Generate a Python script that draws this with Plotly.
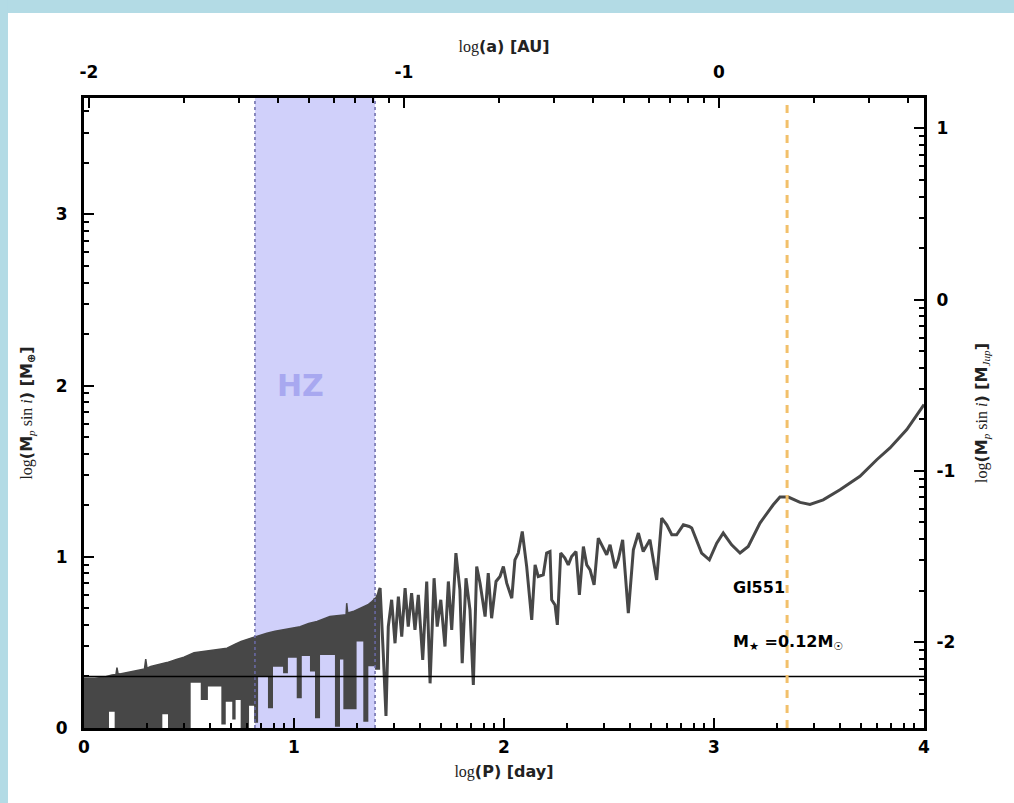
import math
import plotly.graph_objects as go

# ---- detection-limit curve: dense short-period part (envelope band) ----
dense_p_up = [0.0, 0.05, 0.095, 0.133, 0.152, 0.157, 0.162, 0.171, 0.224, 0.267,
              0.288, 0.294, 0.300, 0.318, 0.36, 0.395, 0.44, 0.476, 0.524, 0.56,
              0.605, 0.64, 0.681, 0.72, 0.748, 0.795, 0.83, 0.871, 0.91, 0.948,
              0.99, 1.029, 1.07, 1.110, 1.171, 1.21, 1.238, 1.248, 1.251, 1.256,
              1.281, 1.31, 1.329, 1.352, 1.371, 1.390, 1.41]
dense_m_up = [0.29, 0.29, 0.296, 0.31, 0.312, 0.353, 0.318, 0.315, 0.329, 0.339,
              0.345, 0.402, 0.35, 0.359, 0.37, 0.382, 0.40, 0.413, 0.44, 0.445,
              0.452, 0.458, 0.466, 0.49, 0.505, 0.525, 0.54, 0.554, 0.565, 0.573,
              0.58, 0.592, 0.61, 0.622, 0.651, 0.655, 0.66, 0.662, 0.729, 0.672,
              0.68, 0.695, 0.709, 0.72, 0.739, 0.76, 0.817]

dense_p_lo = [0.0, 0.119, 0.146, 0.373, 0.400, 0.508, 0.556, 0.590, 0.654, 0.675,
              0.706, 0.722, 0.746, 0.786, 0.810, 0.829, 0.876, 0.900, 0.948, 0.971,
              1.013, 1.037, 1.076, 1.100, 1.124, 1.195, 1.219, 1.235, 1.298, 1.330,
              1.354, 1.386, 1.41]
dense_m_lo = [0.0, 0.095, 0.0, 0.08, 0.0, 0.265, 0.164, 0.242, 0.02, 0.154,
              0.05, 0.164, 0.0, 0.13, 0.03, 0.30, 0.115, 0.358, 0.32, 0.41,
              0.174, 0.42, 0.33, 0.057, 0.427, 0.008, 0.40, 0.11, 0.505, 0.037,
              0.36, 0.34, 0.34]

# ---- detection-limit curve: longer periods ----
line_p = [1.386, 1.395, 1.405, 1.410, 1.425, 1.438, 1.449, 1.465, 1.481, 1.497,
          1.513, 1.529, 1.544, 1.560, 1.576, 1.592, 1.613, 1.632, 1.648, 1.667,
          1.682, 1.699, 1.719, 1.735, 1.751, 1.771, 1.790, 1.801, 1.819, 1.838,
          1.854, 1.870, 1.886, 1.910, 1.925, 1.941, 1.962, 1.981, 1.997, 2.013,
          2.037, 2.052, 2.068, 2.087, 2.108, 2.132, 2.148, 2.163, 2.187, 2.203,
          2.219, 2.227, 2.243, 2.254, 2.270, 2.290, 2.306, 2.322, 2.343, 2.359,
          2.378, 2.394, 2.410, 2.429, 2.449, 2.470, 2.489, 2.505, 2.529, 2.544,
          2.565, 2.592, 2.616, 2.640, 2.663, 2.695, 2.727, 2.751, 2.775, 2.799,
          2.822, 2.854, 2.882, 2.894, 2.941, 2.978, 3.013, 3.044, 3.084, 3.124,
          3.163, 3.219, 3.282, 3.314, 3.354, 3.410, 3.457, 3.520, 3.600, 3.695,
          3.775, 3.838, 3.918, 4.0]
line_m = [0.76, 0.36, 0.80, 0.817, 0.437, 0.07, 0.592, 0.749, 0.495, 0.768,
          0.534, 0.817, 0.592, 0.788, 0.573, 0.778, 0.398, 0.856, 0.261, 0.875,
          0.592, 0.749, 0.476, 0.856, 0.573, 1.022, 0.807, 0.378, 0.875, 0.690,
          0.251, 0.943, 0.846, 0.651, 0.905, 0.641, 0.856, 0.885, 0.943, 0.846,
          0.758, 0.982, 1.022, 1.148, 0.943, 0.632, 0.953, 0.885, 0.895, 1.022,
          1.031, 0.749, 0.719, 0.602, 1.022, 0.992, 0.953, 1.002, 1.031, 0.778,
          1.060, 0.953, 0.924, 0.836, 1.109, 1.060, 1.012, 1.070, 0.934, 0.982,
          1.099, 0.671, 1.041, 1.139, 1.031, 1.099, 0.865, 1.226, 1.187, 1.129,
          1.129, 1.187, 1.177, 1.168, 1.022, 0.982, 1.080, 1.139, 1.070, 1.022,
          1.060, 1.197, 1.304, 1.349, 1.349, 1.318, 1.306, 1.333, 1.392, 1.470,
          1.567, 1.636, 1.743, 1.889]

# ---- reference levels ----
star_mass = 0.12            # M_sun
threshold_m = 0.301         # log(2 M_earth)
hz_p = [0.814, 1.386]       # habitable zone, log(P)
outer_p = 3.348             # dashed marker, log(P)
earth_to_jup = 2.502        # log(M_jup / M_earth)
p_range = [0.0, 4.0]
m_range = [0.0, 3.68]

bottom_ticks = [0, 1, 2, 3, 4]
left_ticks = [0, 1, 2, 3]
top_ticks = [-2, -1, 0]
right_ticks = [-2, -1, 0, 1]


# log(a) = (2 log P_yr + log M*) / 3, P in days
def log_a(logp_day):
    return (2.0 * (logp_day - math.log10(365.25)) + math.log10(star_mass)) / 3.0


def minor_vals(lo, hi):
    out = []
    for n in range(int(math.floor(lo)) - 1, int(math.ceil(hi)) + 1):
        for k in range(2, 10):
            v = n + math.log10(k)
            if lo < v < hi:
                out.append(v)
    return out


def bold_labels(vals):
    return ["<b>%d</b>" % v if v >= 0 else "<b>-%d</b>" % abs(v) for v in vals]


DARK = "#474747"
fig = go.Figure()

fig.add_trace(go.Scatter(x=dense_p_lo, y=dense_m_lo, mode="lines",
                         line=dict(width=0, shape="hv", color=DARK),
                         hoverinfo="skip", showlegend=False))
fig.add_trace(go.Scatter(x=dense_p_up, y=dense_m_up, mode="lines",
                         line=dict(width=1.5, color=DARK), fill="tonexty",
                         fillcolor=DARK, showlegend=False))
fig.add_trace(go.Scatter(x=line_p, y=line_m, mode="lines",
                         line=dict(width=3, color=DARK), showlegend=False))

# habitable zone
fig.add_shape(type="rect", xref="x", yref="y", x0=hz_p[0], x1=hz_p[1],
              y0=m_range[0], y1=m_range[1], fillcolor="#d0d0fa",
              line=dict(width=0), layer="below")
for xv in hz_p:
    fig.add_shape(type="line", xref="x", yref="y", x0=xv, x1=xv,
                  y0=m_range[0], y1=m_range[1],
                  line=dict(color="#6a6aa8", width=1.5, dash="dot"))

# detection threshold
fig.add_shape(type="line", xref="x", yref="y", x0=p_range[0], x1=p_range[1],
              y0=threshold_m, y1=threshold_m, line=dict(color="black", width=1.5))

# dashed orbit marker
fig.add_shape(type="line", xref="x", yref="y", x0=outer_p, x1=outer_p,
              y0=m_range[0], y1=m_range[1],
              line=dict(color="#f2c06a", width=3, dash="8px,7px"))

# frame bands
fig.add_shape(type="rect", xref="paper", yref="paper", x0=-0.1, x1=1.11,
              y0=1.1349, y1=1.16, fillcolor="#b3dbe5", line=dict(width=0))
fig.add_shape(type="rect", xref="paper", yref="paper", x0=-0.1, x1=-0.0905,
              y0=-0.13, y1=1.16, fillcolor="#b3dbe5", line=dict(width=0))

fig.add_annotation(x=1.03, y=2.0, xref="x", yref="y", text="<b>HZ</b>",
                   showarrow=False, font=dict(family="DejaVu Sans", size=30,
                                               color="#a8a8f0"))
fig.add_annotation(x=3.08, y=0.82, xref="x", yref="y", text="<b>Gl551</b>",
                   xanchor="left", showarrow=False,
                   font=dict(family="DejaVu Sans", size=16, color="black"))
fig.add_annotation(x=3.08, y=0.50, xref="x", yref="y",
                   text="<b>M</b><sub>★</sub><b> =0.12M</b><sub>☉</sub>",
                   xanchor="left", showarrow=False,
                   font=dict(family="DejaVu Sans", size=16, color="black"))

SERIF = "<span style=\"font-family:'Liberation Serif';font-weight:normal\">"
tickfont = dict(family="DejaVu Sans", size=17, color="black")
titlefont = dict(family="DejaVu Sans", size=16, color="#222", weight="bold")
common = dict(showline=True, linewidth=3, linecolor="black", ticks="inside",
              ticklen=10, tickwidth=2, tickcolor="black", showgrid=False,
              zeroline=False, tickfont=tickfont, mirror=False,
              tickmode="array")
minor_style = dict(ticks="inside", ticklen=5, tickwidth=1.5, tickcolor="black",
                   showgrid=False, tickmode="array")

top_range = [log_a(p_range[0]), log_a(p_range[1])]
right_range = [m_range[0] - earth_to_jup, m_range[1] - earth_to_jup]

fig.update_layout(
    width=1014, height=803,
    margin=dict(l=84, r=90, t=98, b=75),
    paper_bgcolor="white", plot_bgcolor="white",
    xaxis=dict(range=p_range, tickvals=bottom_ticks,
               ticktext=bold_labels(bottom_ticks), ticklabelstandoff=2,
               minor=dict(tickvals=minor_vals(*p_range), **minor_style),
               title=dict(text=SERIF + "log</span>(P) [day]", font=titlefont,
                          standoff=10),
               **common),
    yaxis=dict(range=m_range, tickvals=left_ticks,
               ticktext=bold_labels(left_ticks), ticklabelstandoff=10,
               minor=dict(tickvals=minor_vals(*m_range), **minor_style),
               title=dict(text=SERIF + "log</span>(M" + SERIF + "<sub><i>p</i></sub> sin <i>i</i></span>) [M<sub>⊕</sub>]",
                          font=titlefont, standoff=20),
               **common),
    xaxis2=dict(range=top_range, overlaying="x", side="top", anchor="y",
                tickvals=top_ticks, ticktext=bold_labels(top_ticks),
                ticklabelstandoff=10,
                minor=dict(tickvals=minor_vals(*top_range), **minor_style),
                title=dict(text=SERIF + "log</span>(a) [AU]", font=titlefont,
                           standoff=6),
                **common),
    yaxis2=dict(range=right_range, overlaying="y", side="right", anchor="x",
                tickvals=right_ticks, ticktext=bold_labels(right_ticks),
                ticklabelstandoff=6,
                minor=dict(tickvals=minor_vals(*right_range), **minor_style),
                title=dict(text=SERIF + "log</span>(M" + SERIF + "<sub><i>p</i></sub> sin <i>i</i></span>) [M" + SERIF + "<sub><i>Jup</i></sub></span>]",
                           font=titlefont, standoff=22),
                **common),
)

fig.add_trace(go.Scatter(x=[None], y=[None], xaxis="x2", yaxis="y2",
                         showlegend=False, hoverinfo="skip"))

fig.write_html("out.html")
